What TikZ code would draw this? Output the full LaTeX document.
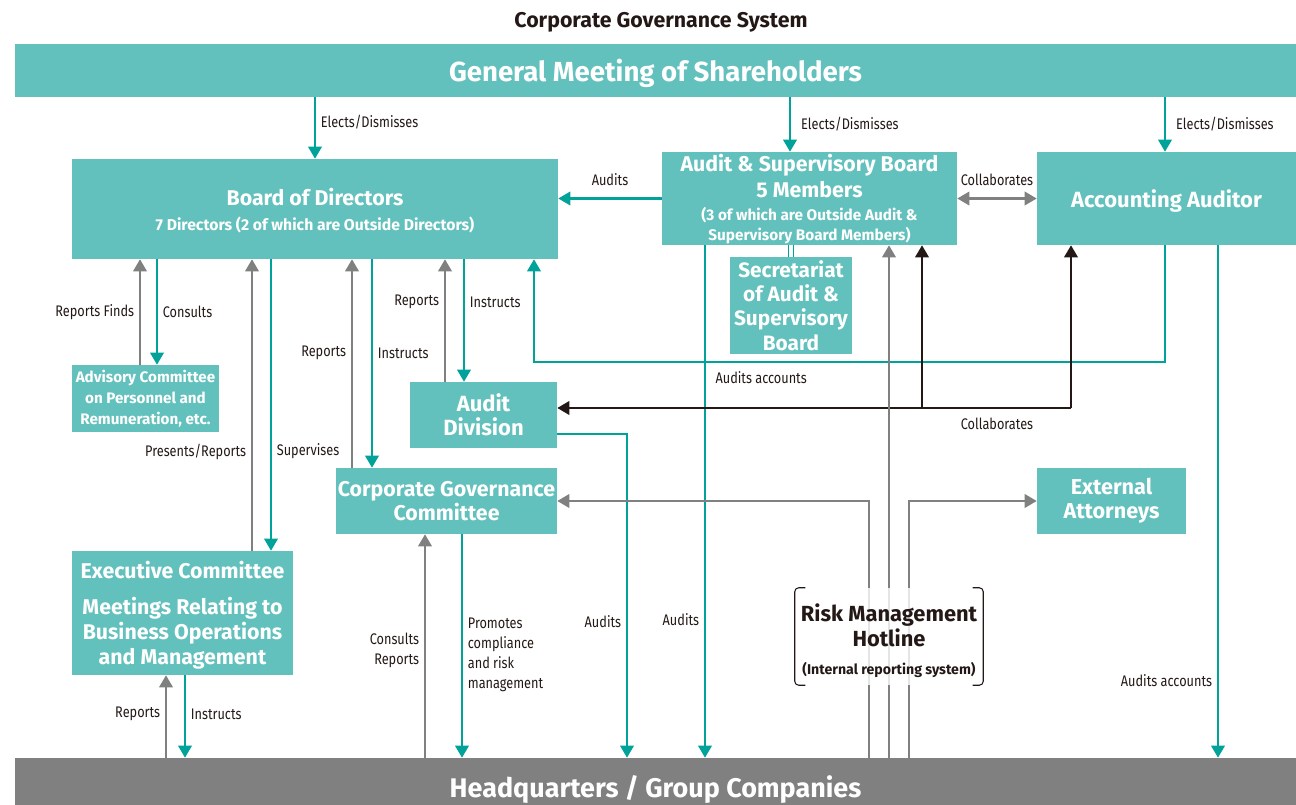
\documentclass[tikz,border=0pt]{standalone}
\usepackage{fontspec}
\setmainfont{Fira Sans}
\newfontfamily\lblfont{Fira Sans}[FakeStretch=0.83]
\usetikzlibrary{arrows.meta}
\definecolor{govbox}{RGB}{99,193,189}
\definecolor{govline}{RGB}{0,162,154}
\definecolor{repline}{RGB}{128,128,128}
\definecolor{colline}{RGB}{35,24,21}
\newcommand{\govsize}[2]{\fontsize{#1}{#2}\selectfont}
\newcommand{\topstrut}[1]{\rule{0pt}{#1}}

\tikzset{
  wh/.style 2 args={minimum width=#1*0.75pt, minimum height=#2*0.75pt},
  govnode/.style={fill=govbox, text=white, font=\bfseries, inner sep=0pt, align=center},
  hqnode/.style={fill=repline, text=white, inner sep=0pt, text depth=0pt, font=\bfseries\govsize{20.2}{24}},
  risknode/.style={fill=white, fill opacity=0.8, text opacity=1, text=colline, inner sep=0pt, align=center},
  tlabel/.style={font=\lblfont\govsize{11.5}{15}, text=colline, inner sep=3.5pt},
  tarrow/.style={draw=govline, line width=1.8pt, -{Triangle[length=9pt,width=10pt]}},
  garrow/.style={draw=repline, line width=1.8pt, -{Triangle[length=9pt,width=10pt]}},
  garrowboth/.style={draw=repline, line width=1.8pt, {Triangle[length=9pt,width=10pt]}-{Triangle[length=9pt,width=10pt]}},
  barrow/.style={draw=colline, line width=1.8pt, -{Triangle[length=9pt,width=10pt]}},
  riskline/.style={draw=colline, line width=0.8pt, rounded corners=3pt},
}

\begin{document}
\begin{tikzpicture}[x=0.75pt, y=-0.75pt]
\useasboundingbox (0,0) rectangle (1296,805);

% title and the two bars
\node[font=\bfseries\govsize{16}{18}, text=colline] (title) at (661,22) {Corporate Governance System};
\node[govnode, wh={1281}{53}, text depth=0pt, font=\bfseries\govsize{20.7}{24}] (gms) at (655.5,70.5) {General Meeting of Shareholders};
\node[hqnode, wh={1281}{58}] (hq) at (655.5,787) {Headquarters / Group Companies};

% boxes
\node[govnode, wh={486}{100}, font=\bfseries\govsize{16}{18.75}] (bod) at (315,209)
  {\topstrut{16pt}Board of Directors\\{\govsize{11.8}{14}7 Directors (2 of which are Outside Directors)}};
\node[govnode, wh={295}{93}, font=\bfseries\govsize{16}{15}] (asb) at (809.5,198.5)
  {\topstrut{14pt}Audit \& Supervisory Board\\[3pt]5 Members\\[2.25pt]{\govsize{11.5}{14}(3 of which are Outside Audit \&}\\{\govsize{11.5}{14}Supervisory Board Members)}};
\node[govnode, wh={259}{93}, text depth=0pt, font=\bfseries\govsize{16.5}{18}] (aa) at (1166.5,198.5) {Accounting Auditor};
\node[govnode, wh={122}{97}, font=\bfseries\govsize{15.6}{18.2}] (sec) at (791,305.5) {Secretariat\\of Audit \&\\Supervisory\\Board};
\node[govnode, wh={147}{67}, font=\bfseries\govsize{11.4}{15.75}] (adv) at (145.5,398.5) {Advisory Committee\\on Personnel and\\Remuneration, etc.};
\node[govnode, wh={147}{66}, font=\bfseries\govsize{16.5}{18}] (ad) at (483.5,415) {Audit\\Division};
\node[govnode, wh={221}{66}, font=\bfseries\govsize{16}{18}] (cgc) at (446.5,501) {Corporate Governance\\Committee};
\node[govnode, wh={149}{66}, font=\bfseries\govsize{16.2}{18}] (ext) at (1111.5,501) {External\\Attorneys};
\node[govnode, wh={221}{124}, font=\bfseries\govsize{16}{18.75}] (exec) at (182.5,613)
  {\topstrut{17pt}Executive Committee\\[8.25pt]Meetings Relating to\\Business Operations\\and Management};

% elects / dismisses
\draw[tarrow] (bod.north |- gms.south) -- (bod.north) node[pos=0.4, right, tlabel] {Elects/Dismisses};
\draw[tarrow] (790,0 |- gms.south) -- (790,0 |- asb.north) node[midway, right, tlabel, xshift=4pt] {Elects/Dismisses};
\draw[tarrow] (1165,0 |- gms.south) -- (1165,0 |- aa.north) node[midway, right, tlabel, xshift=4pt] {Elects/Dismisses};

% audit board
\draw[tarrow] (asb.west) -- (asb.west -| bod.east) node[midway, above, tlabel, yshift=5pt] {Audits};
\draw[garrowboth] (asb.east) -- (aa.west) node[midway, above, tlabel, yshift=5pt] {Collaborates};
\draw[govline, line width=0.7pt, double=white, double distance=2.5pt] (sec.north) -- (sec.north |- asb.south);

% board of directors and the bodies below it
\draw[garrow] (140,0 |- adv.north) -- (140,0 |- bod.south) node[midway, left, tlabel] {Reports Finds};
\draw[tarrow] (157,0 |- bod.south) -- (157,0 |- adv.north) node[midway, right, tlabel] {Consults};
\draw[garrow] (252,0 |- exec.north) -- (252,0 |- bod.south) node[pos=0.34, left, tlabel] {Presents/Reports};
\draw[tarrow] (271,0 |- bod.south) -- (271,0 |- exec.north) node[pos=0.66, right, tlabel] {Supervises};
\draw[garrow] (352,0 |- cgc.north) -- (352,0 |- bod.south) node[pos=0.55, left, tlabel] {Reports};
\draw[tarrow] (372,0 |- bod.south) -- (372,0 |- cgc.north) node[pos=0.45, right, tlabel] {Instructs};
\draw[garrow] (445,0 |- ad.north) -- (445,0 |- bod.south) node[pos=0.65, left, tlabel] {Reports};
\draw[tarrow] (464,0 |- bod.south) -- (464,0 |- ad.north) node[pos=0.35, right, tlabel] {Instructs};

% accounting auditor
\draw[tarrow] (1165,0 |- aa.south) -- (1165,362) -- (534,362) node[pos=0.64, below, tlabel, yshift=-3pt] {Audits accounts} -- (534,0 |- bod.south);
\draw[tarrow] (1218,0 |- aa.south) -- (1218,0 |- hq.north) node[pos=0.85, left, tlabel] {Audits accounts};

% audits of headquarters
\draw[tarrow] (705,0 |- asb.south) -- (705,0 |- hq.north) node[pos=0.73, left, tlabel] {Audits};
\draw[tarrow] (ad.east |- 0,434) -- (627,434) -- (627,0 |- hq.north) node[pos=0.58, left, tlabel] {Audits};

% three-way collaboration
\coordinate (collab) at (1071,408);
\draw[barrow] (collab) -- (collab -| ad.east);
\draw[barrow] (collab) -- (collab |- aa.south);
\draw[barrow] (922,408) -- (922,0 |- asb.south);
\node[tlabel] (collabtxt) at (997,424) {Collaborates};

% corporate governance committee and executive committee
\draw[garrow] (425,0 |- hq.north) -- (425,0 |- cgc.south) node[pos=0.48, left, tlabel, align=right] {Consults\\Reports};
\draw[tarrow] (462,0 |- cgc.south) -- (462,0 |- hq.north) node[pos=0.54, right, tlabel, align=left] {Promotes\\compliance\\and risk\\management};
\draw[garrow] (166,0 |- hq.north) -- (166,0 |- exec.south) node[pos=0.53, left, tlabel] {Reports};
\draw[tarrow] (185,0 |- exec.south) -- (185,0 |- hq.north) node[pos=0.47, right, tlabel] {Instructs};

% hotline
\draw[garrow] (869,0 |- hq.north) |- (cgc.east);
\draw[garrow] (889,0 |- hq.north) -- (889,0 |- asb.south);
\draw[garrow] (909,0 |- hq.north) |- (ext.west);
\node[risknode, wh={188}{97}, font=\bfseries\govsize{16.4}{18.75}] (risk) at (889,636.5)
  {\topstrut{20pt}Risk Management\\Hotline\\[2.25pt]{\govsize{10.6}{12}(Internal reporting system)}};
\draw[riskline] ([xshift=8pt]risk.north west) -- (risk.north west) -- (risk.south west) -- ([xshift=8pt]risk.south west);
\draw[riskline] ([xshift=-8pt]risk.north east) -- (risk.north east) -- (risk.south east) -- ([xshift=-8pt]risk.south east);
\end{tikzpicture}
\end{document}
